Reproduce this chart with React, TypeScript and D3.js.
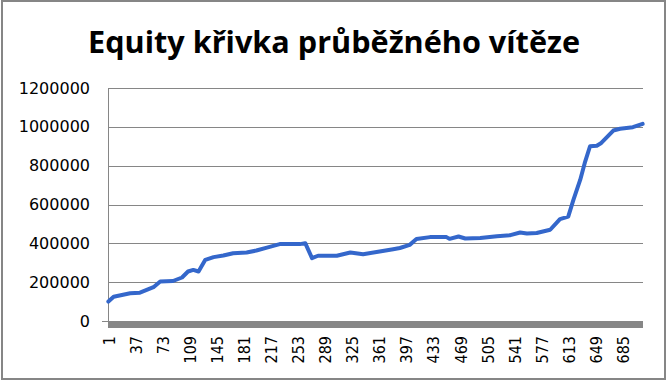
import React from "react";
import * as d3 from "d3";

const title = "Equity křivka průběžného vítěze";
const pointCount = 712;
const pointIndex = [1, 8, 30, 43, 61, 70, 87, 99, 107, 114, 121, 130, 141, 154, 167, 185, 198, 212, 229, 256, 263, 272, 280, 305, 323, 340, 362, 380, 389, 402, 411, 429, 451, 455, 467, 476, 496, 518, 536, 549, 558, 571, 589, 602, 613, 620, 629, 635, 642, 651, 657, 673, 682, 699, 712];
const equity = [100000, 125000, 143000, 146000, 174000, 203000, 206000, 224000, 255000, 263000, 255000, 315000, 329000, 337000, 349000, 353000, 363000, 378000, 396000, 396000, 401000, 324000, 336000, 336000, 353000, 344000, 358000, 370000, 376000, 392000, 422000, 432000, 432000, 423000, 435000, 425000, 428000, 437000, 442000, 456000, 451000, 453000, 470000, 525000, 538000, 625000, 728000, 814000, 900000, 903000, 917000, 981000, 990000, 998000, 1015000];
const yTicks = [0, 200000, 400000, 600000, 800000, 1000000, 1200000];
const xTickLabels = [1, 37, 73, 109, 145, 181, 217, 253, 289, 325, 361, 397, 433, 469, 505, 541, 577, 613, 649, 685];

export default function App() {
  const W = 666, H = 380;
  const left = 108, right = 643, top = 88, bottom = 321;
  const x = d3.scaleLinear().domain([0.5, pointCount + 0.5]).range([left, right]);
  const y = d3.scaleLinear().domain([0, 1200000]).range([bottom, top]);
  const data = pointIndex.map((i, k) => [i, equity[k]] as [number, number]);
  const line = d3.line<[number, number]>().x(d => x(d[0])).y(d => y(d[1]));
  const grid = "#868686";
  return (
    <svg width={W} height={H} style={{ position: "absolute", left: 0, top: 0, background: "#fff" }}>
      <rect x={2} y={1} width={663} height={378} fill="#fff" stroke={grid} strokeWidth={2} />
      <text x={334} y={53} textAnchor="middle" fontFamily="'Open Sans', sans-serif" fontWeight="bold" fontSize={31} textLength={492} lengthAdjust="spacingAndGlyphs" fill="#000">{title}</text>
      {yTicks.map(t => (
        <g key={t}>
          {t > 0 && <line x1={left} x2={right} y1={Math.round(y(t)) + 0.5} y2={Math.round(y(t)) + 0.5} stroke={grid} strokeWidth={1} />}
          <text x={90} y={y(t)} textAnchor="end" dominantBaseline="central" fontFamily="'DejaVu Sans', sans-serif" fontSize={16} fill="#000">{t}</text>
        </g>
      ))}
      <line x1={left + 0.5} x2={left + 0.5} y1={top} y2={bottom} stroke={grid} strokeWidth={1} />
      <line x1={102} x2={left} y1={bottom + 0.5} y2={bottom + 0.5} stroke={grid} strokeWidth={1} />
      <rect x={left} y={bottom} width={right - left} height={7} fill={grid} />
      {xTickLabels.map(l => (
        <text key={l} transform={`translate(${x(l) + 1},336) rotate(-90)`} textAnchor="end" dominantBaseline="central" fontFamily="'DejaVu Sans Condensed', 'DejaVu Sans', sans-serif" fontSize={16} fill="#000">{l}</text>
      ))}
      <path d={line(data) || ""} fill="none" stroke="#3467CB" strokeWidth={4} strokeLinejoin="round" strokeLinecap="round" />
    </svg>
  );
}
